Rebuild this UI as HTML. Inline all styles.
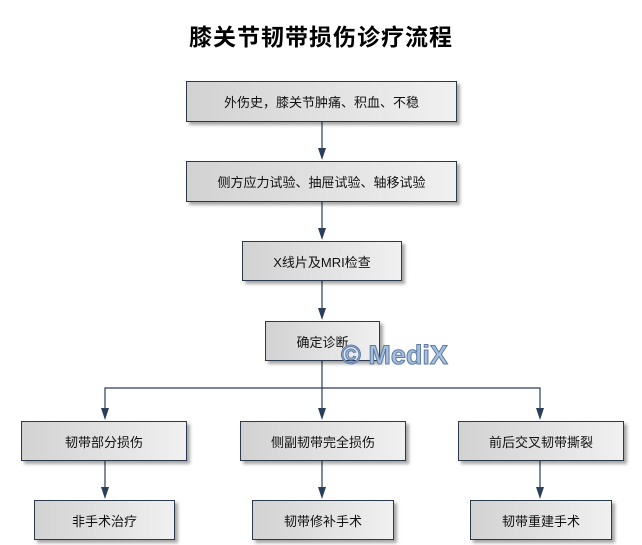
<!DOCTYPE html>
<html><head><meta charset="utf-8"><style>
body{margin:0;width:642px;height:545px;background:#fff;position:relative;overflow:hidden;font-family:"Liberation Sans","Noto Sans CJK SC",sans-serif}
.t{position:absolute;left:0;width:642px;top:18px;text-align:center;font-size:23px;font-weight:bold;color:#000;letter-spacing:1px}
.b{position:absolute;box-sizing:border-box;border:1px solid #2a3a4a;background:linear-gradient(90deg,#d2d2d2,#f0f0f0);box-shadow:3px 3px 3px rgba(0,0,0,.35);display:flex;align-items:center;justify-content:center;font-size:13px;color:#111}
svg{position:absolute;left:0;top:0}
.wm{position:absolute;left:341px;top:340px;font:bold 27px "Liberation Sans",sans-serif;color:#a8bfdc;-webkit-text-stroke:1px #5a7aa8}
</style></head><body>
<div class="t">膝关节韧带损伤诊疗流程</div>
<svg width="642" height="545">
<g stroke="#2a3f5a" stroke-width="1.2" fill="none">
<line x1="322" y1="122" x2="322" y2="150"/>
<line x1="322" y1="202" x2="322" y2="230"/>
<line x1="322" y1="281" x2="322" y2="310"/>
<line x1="322" y1="361" x2="322" y2="410"/>
<polyline points="105,410 105,388 540,388 540,410"/>
<line x1="105" y1="461" x2="105" y2="489"/>
<line x1="322" y1="461" x2="322" y2="489"/>
<line x1="540" y1="461" x2="540" y2="489"/>
</g>
<g fill="#2a3f5a">
<path d="M318,148 L326,148 L322,160 Z"/>
<path d="M318,228 L326,228 L322,240 Z"/>
<path d="M318,308 L326,308 L322,320 Z"/>
<path d="M101,408 L109,408 L105,420 Z"/>
<path d="M318,408 L326,408 L322,420 Z"/>
<path d="M536,408 L544,408 L540,420 Z"/>
<path d="M101,487 L109,487 L105,499 Z"/>
<path d="M318,487 L326,487 L322,499 Z"/>
<path d="M536,487 L544,487 L540,499 Z"/>
</g></svg>
<div class="b" style="left:186px;top:81px;width:271px;height:41px">外伤史，膝关节肿痛、积血、不稳</div>
<div class="b" style="left:186px;top:161px;width:271px;height:41px">侧方应力试验、抽屉试验、轴移试验</div>
<div class="b" style="left:242px;top:241px;width:160px;height:40px">X线片及MRI检查</div>
<div class="b" style="left:265px;top:321px;width:115px;height:40px">确定诊断</div>
<div class="b" style="left:21px;top:421px;width:166px;height:40px">韧带部分损伤</div>
<div class="b" style="left:240px;top:421px;width:166px;height:40px">侧副韧带完全损伤</div>
<div class="b" style="left:458px;top:421px;width:166px;height:40px">前后交叉韧带撕裂</div>
<div class="b" style="left:34px;top:500px;width:141px;height:40px">非手术治疗</div>
<div class="b" style="left:252px;top:500px;width:142px;height:40px">韧带修补手术</div>
<div class="b" style="left:470px;top:500px;width:142px;height:40px">韧带重建手术</div>
<div class="wm">© MediX</div>
</body></html>
